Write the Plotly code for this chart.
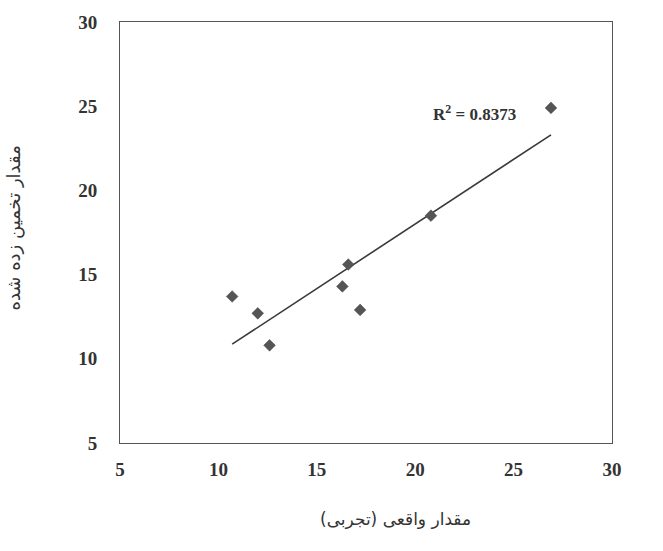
import numpy as np
import plotly.graph_objects as go

# Data
actual = [10.7, 12.0, 12.6, 16.3, 16.6, 17.2, 20.8, 26.9]
estimated = [13.7, 12.7, 10.8, 14.3, 15.6, 12.9, 18.5, 24.9]
x_ticks = [5, 10, 15, 20, 25, 30]
y_ticks = [5, 10, 15, 20, 25, 30]
r2_label = "<b>R<sup>2</sup> = 0.8373</b>"
x_title = "مقدار واقعی (تجربی)"
y_title = "مقدار تخمین زده شده"

# Linear trend line computed from the data
slope, intercept = np.polyfit(actual, estimated, 1)
tx = [min(actual), max(actual)]
ty = [slope * v + intercept for v in tx]

fig = go.Figure()
fig.add_trace(go.Scatter(x=tx, y=ty, mode="lines",
                         line=dict(color="#3a3a3a", width=1.6),
                         showlegend=False, hoverinfo="skip"))
fig.add_trace(go.Scatter(x=actual, y=estimated, mode="markers",
                         marker=dict(symbol="diamond", size=9, color="#555555",
                                     line=dict(color="#444444", width=0.5)),
                         showlegend=False))

fig.add_annotation(x=23.0, y=24.6, xref="x", yref="y", text=r2_label,
                   showarrow=False,
                   font=dict(family="Liberation Serif", size=17, color="#333333"))

fig.add_annotation(x=0.56, y=-0.18, xref="paper", yref="paper", text=x_title,
                   showarrow=False, xanchor="center", yanchor="middle",
                   font=dict(family="DejaVu Sans", size=17, color="#333333"))
fig.add_annotation(x=-0.215, y=0.51, xref="paper", yref="paper", text=y_title,
                   showarrow=False, textangle=-90, xanchor="center", yanchor="middle",
                   font=dict(family="DejaVu Sans", size=18, color="#333333"))

axis_common = dict(showgrid=False, zeroline=False, showline=True, mirror=True,
                   linecolor="#555555", linewidth=1, ticks="",
                   tickfont=dict(family="Liberation Serif", size=19, color="#333333",
                                 weight="bold"))

fig.update_xaxes(range=[5, 30], tickvals=x_ticks, ticklabelstandoff=9, **axis_common)
fig.update_yaxes(range=[5, 30], tickvals=y_ticks, ticklabelstandoff=18, **axis_common)

fig.update_layout(width=663, height=551,
                  margin=dict(l=120, r=51, t=15, b=108),
                  plot_bgcolor="white", paper_bgcolor="white")

fig.write_html("out.html")
